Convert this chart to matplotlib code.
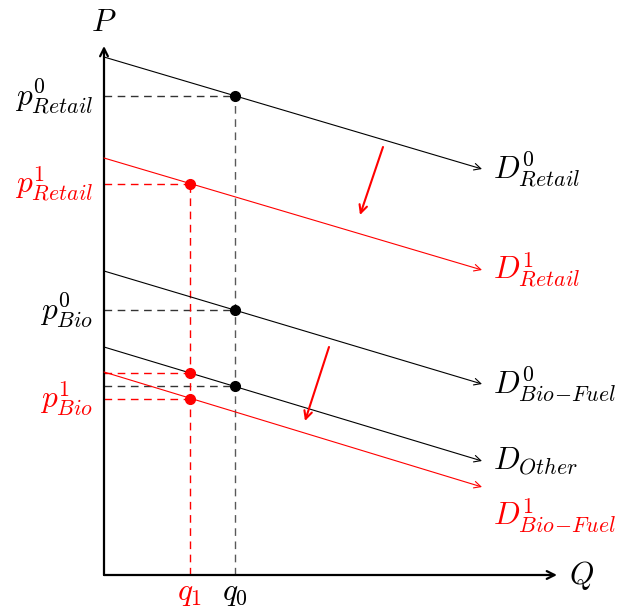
import matplotlib
matplotlib.use("Agg")
import matplotlib.pyplot as plt

plt.rcParams['mathtext.fontset'] = 'cm'
plt.rcParams['font.family'] = ['DejaVu Serif']

FS = 22.5

# Demand curves: price at Q=0 and at Q=q_end
q_end = 378
curve_names = [r"$D^0_{Retail}$", r"$D^1_{Retail}$", r"$D^0_{Bio\!-\!Fuel}$", r"$D_{Other}$", r"$D^1_{Bio\!-\!Fuel}$"]
curve_p_start = [518, 417, 304, 228, 203]
curve_p_end = [406, 305, 191, 114, 88]
curve_colors = ["black", "red", "black", "black", "red"]
label_offsets = [0, 0, 0, 0, -29]

# Quantities
q0 = 131
q1 = 86
# Equilibrium prices
p0_retail = 479
p1_retail = 391
p0_bio = 265
p_other_q0 = 189
p_other_q1 = 202
p1_bio = 176

ax_top = 529
ax_right = 453

fig = plt.figure(figsize=(6.23, 6.08), dpi=100)
ax = fig.add_axes([0, 0, 1, 1])
ax.set_xlim(-104, 519)
ax.set_ylim(-33, 575)
ax.axis("off")

# axes
ax.annotate("", xy=(0, ax_top), xytext=(0, 0),
            arrowprops=dict(arrowstyle="->", lw=1.6, color="black", mutation_scale=14, shrinkA=0, shrinkB=0))
ax.annotate("", xy=(ax_right, 0), xytext=(0, 0),
            arrowprops=dict(arrowstyle="->", lw=1.6, color="black", mutation_scale=14, shrinkA=0, shrinkB=0))
ax.text(0, ax_top + 8, r"$P$", fontsize=FS, ha="center", va="bottom")
ax.text(ax_right + 12, 0, r"$Q$", fontsize=FS, ha="left", va="center")

# demand curves
for name, ps, pe, c, off in zip(curve_names, curve_p_start, curve_p_end, curve_colors, label_offsets):
    ax.annotate("", xy=(q_end, pe), xytext=(0, ps),
                arrowprops=dict(arrowstyle="->", lw=0.8, color=c, mutation_scale=12, shrinkA=0, shrinkB=0))
    ax.text(q_end + 11, pe + off, name, fontsize=FS, color=c, ha="left", va="center")

dash = dict(lw=1.0, dashes=(5.5, 4))
# black dashed guides
for p in [p0_retail, p0_bio, p_other_q0]:
    ax.plot([0, q0], [p, p], color="0.2", **dash)
ax.plot([q0, q0], [0, p0_retail], color="0.35", **dash)
# red dashed guides
for p in [p1_retail, p_other_q1, p1_bio]:
    ax.plot([0, q1], [p, p], color="red", **dash)
ax.plot([q1, q1], [0, p1_retail], color="red", **dash)

# points
ax.plot([q0, q0, q0], [p0_retail, p0_bio, p_other_q0], "o", color="black", ms=7, zorder=5)
ax.plot([q1, q1, q1], [p1_retail, p_other_q1, p1_bio], "o", color="red", ms=7, zorder=5)

# shift arrows
ax.annotate("", xy=(256, 360), xytext=(279, 428),
            arrowprops=dict(arrowstyle="->", lw=1.5, color="red", mutation_scale=14, shrinkA=0, shrinkB=0))
ax.annotate("", xy=(201, 154), xytext=(225, 228),
            arrowprops=dict(arrowstyle="->", lw=1.5, color="red", mutation_scale=14, shrinkA=0, shrinkB=0))

# price labels
ax.text(-11, p0_retail, r"$p^0_{Retail}$", fontsize=FS, ha="right", va="center")
ax.text(-11, p1_retail, r"$p^1_{Retail}$", fontsize=FS, ha="right", va="center", color="red")
ax.text(-11, p0_bio, r"$p^0_{Bio}$", fontsize=FS, ha="right", va="center")
ax.text(-11, p1_bio, r"$p^1_{Bio}$", fontsize=FS, ha="right", va="center", color="red")

# quantity labels
ax.text(q1, -18, r"$q_1$", fontsize=FS, ha="center", va="center", color="red")
ax.text(q0, -18, r"$q_0$", fontsize=FS, ha="center", va="center")

fig.savefig("out.png", dpi=100)
